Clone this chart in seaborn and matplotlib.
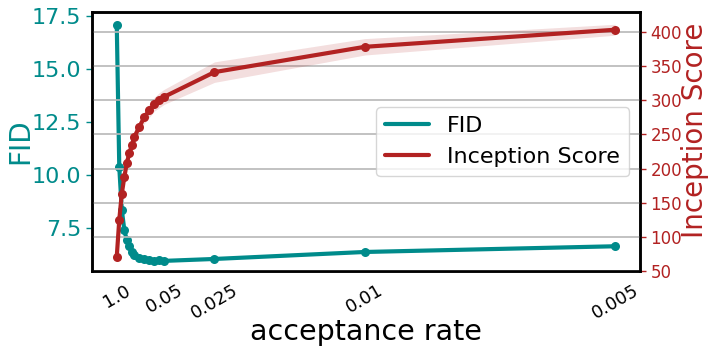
import numpy as np
import pandas as pd
import matplotlib
matplotlib.use("Agg")
import matplotlib.pyplot as plt
from matplotlib.lines import Line2D
import seaborn as sns

# ---- data ----
inv_rate = [1, 2, 3, 4, 5, 6, 7, 8, 10, 12, 14, 16, 18, 20, 40, 100, 200]
fid = [17.05, 10.35, 8.35, 7.40, 6.90, 6.62, 6.37, 6.21, 6.08, 6.01, 5.97,
       5.93, 5.96, 5.93, 6.02, 6.35, 6.62]
is_mean = [71, 125, 163, 187, 208, 222, 234, 246, 261, 275, 285, 294, 300,
           305, 341, 378, 403]
is_sd = [2, 3, 4, 5, 6, 7, 7, 8, 8, 9, 10, 10, 11, 11, 15, 12, 8]
tick_labels = {1: "1.0", 20: "0.05", 40: "0.025", 100: "0.01", 200: "0.005"}

TEAL = "#008B8B"
RED = "#B22222"

sns.set_style("white")
plt.rcParams["font.family"] = ["DejaVu Sans"]
plt.rcParams["text.color"] = "black"
plt.rcParams["axes.labelcolor"] = "black"
plt.rcParams["xtick.color"] = "black"
plt.rcParams["ytick.color"] = "black"

df = pd.DataFrame({"x": inv_rate, "fid": fid, "is": is_mean,
                   "lo": np.array(is_mean) - np.array(is_sd),
                   "hi": np.array(is_mean) + np.array(is_sd)})

fig = plt.figure(figsize=(7.12, 3.52), dpi=100)
ax = fig.add_subplot(111)
fig.subplots_adjust(left=0.129, right=0.899, top=0.966, bottom=0.23)
ax2 = ax.twinx()

ax2.grid(axis="y", color="#b8b8b8", lw=1.2)
ax.grid(False)

sns.lineplot(data=df, x="x", y="fid", ax=ax, color=TEAL, lw=3,
             marker="o", markersize=6.5, markeredgewidth=0, legend=False)
ax2.fill_between(df["x"], df["lo"], df["hi"], color=RED, alpha=0.15, lw=0)
sns.lineplot(data=df, x="x", y="is", ax=ax2, color=RED, lw=3,
             marker="o", markersize=6.5, markeredgewidth=0, legend=False)

ax.set_xlim(-8.95, 209.95)
ax.set_ylim(5.45, 17.68)
ax2.set_ylim(50, 429)

ax.set_xticks(inv_rate)
ax.set_xticklabels([tick_labels.get(v, "") for v in inv_rate],
                   rotation=30, fontsize=13)
ax.set_yticks([7.5, 10.0, 12.5, 15.0, 17.5])
ax.set_yticklabels(["7.5", "10.0", "12.5", "15.0", "17.5"])
ax.tick_params(axis="y", colors=TEAL, labelsize=16, length=4, width=1)
ax.tick_params(axis="x", length=4, width=1, colors="black")
ax2.set_yticks([50, 100, 150, 200, 250, 300, 350, 400])
ax2.tick_params(axis="y", colors=RED, labelsize=12, length=4, width=1)

ax.set_xlabel("acceptance rate", fontsize=20.5, color="black")
ax.set_ylabel("FID", fontsize=20, color=TEAL)
ax2.set_ylabel("Inception Score", fontsize=20, color=RED)
ax.xaxis.set_label_coords(0.5, -0.183)
ax.yaxis.set_label_coords(-0.105, 0.5)
ax2.yaxis.set_label_coords(1.074, 0.542)

for a in (ax, ax2):
    for s in a.spines.values():
        s.set_color("black")
        s.set_linewidth(1.8)

handles = [Line2D([], [], color=TEAL, lw=3), Line2D([], [], color=RED, lw=3)]
leg = ax2.legend(handles, ["FID", "Inception Score"], loc="center right",
                 fontsize=16, frameon=True)
for t in leg.get_texts():
    t.set_color("black")

fig.savefig("out.png", dpi=100)
